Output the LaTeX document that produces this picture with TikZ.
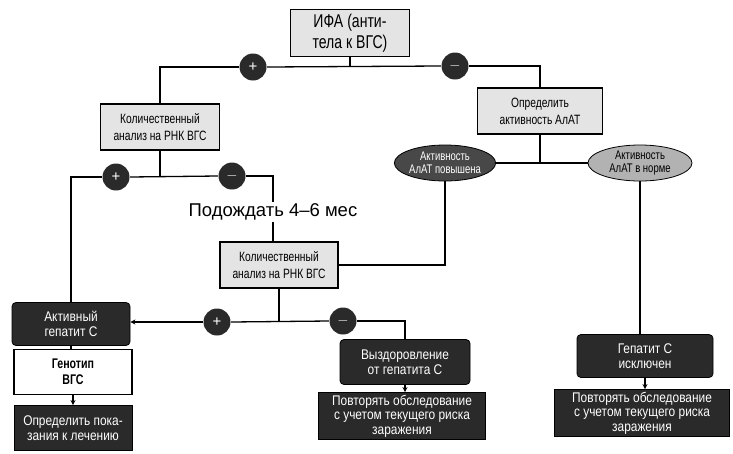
\documentclass[tikz,border=0pt]{standalone}
\usepackage{fontspec}
\setmainfont{Liberation Sans}
\newfontfamily\narrowfont{Liberation Sans}[FakeStretch=0.76]
\newfontfamily\semifont{Liberation Sans}[FakeStretch=0.85]
\usetikzlibrary{arrows.meta,shapes.geometric}
\definecolor{boxgrey}{RGB}{228,228,228}
\definecolor{darkfill}{RGB}{42,42,42}
\definecolor{ovaldark}{RGB}{72,72,72}
\definecolor{ovallight}{RGB}{178,178,178}

\begin{document}
\begin{tikzpicture}[x=1pt,y=-1pt,
    line width=1.3pt,
    lightbox/.style={draw, line width=1.1pt, fill=boxgrey, align=center, inner sep=1pt,
        font=\narrowfont\fontsize{13.5}{17}\selectfont},
    darkbox/.style={draw, line width=0.8pt, fill=darkfill, text=white, align=center, inner sep=1pt,
        font=\semifont\fontsize{14}{14.5}\selectfont},
    oval/.style={ellipse, draw, line width=0.8pt, align=center, inner sep=0pt,
        minimum width=100pt, minimum height=36pt,
        font=\narrowfont\fontsize{12.5}{13}\selectfont},
    sign/.style={circle, fill=darkfill, text=white, minimum size=27pt, inner sep=0pt,
        font=\fontsize{15}{15}\selectfont},
    arr/.style={-{Stealth[length=5pt,width=5pt]}}]

    \useasboundingbox (0,0) rectangle (733,453);

    % верхний уровень
    \node[lightbox, minimum width=119pt, minimum height=47pt,
        font=\narrowfont\fontsize{18.5}{21}\selectfont] (ifa) at (350,33) {ИФА (анти-\\тела к ВГС)};
    \node[lightbox, minimum width=119pt, minimum height=46pt] (kol1) at (160,127) {Количественный\\анализ на РНК ВГС};
    \node[lightbox, minimum width=125pt, minimum height=46pt] (alat) at (540,111) {Определить\\активность АлАТ};

    \node[sign] (p1) at (253,67) {+};
    \node[sign] (m1) at (455,66) {$-$};

    % АлАТ
    \node[oval, fill=ovaldark, text=white] (up) at (445,163) {Активность\\АлАТ повышена};
    \node[oval, fill=ovallight, minimum width=104pt] (norm) at (640,163) {Активность\\АлАТ в норме};

    % второй уровень
    \node[sign] (p2) at (116,177) {+};
    \node[sign] (m2) at (232,176) {$-$};
    \node[font=\fontsize{18.5}{20}\selectfont, fill=white, inner sep=1pt] (wait) at (273,212) {Подождать 4--6 мес};
    \node[lightbox, minimum width=118pt, minimum height=46pt] (kol2) at (279,265) {Количественный\\анализ на РНК ВГС};

    \node[sign] (p3) at (217,322) {+};
    \node[sign] (m3) at (343,321) {$-$};

    % исходы
    \node[darkbox, rounded corners=4pt, minimum width=118pt, minimum height=43pt] (act) at (71,324) {Активный\\гепатит С};
    \node[lightbox, fill=white, minimum width=118pt, minimum height=45pt,
        font=\narrowfont\bfseries\fontsize{14}{16}\selectfont] (geno) at (73,372) {Генотип\\ВГС};
    \node[darkbox, minimum width=118pt, minimum height=45pt] (indic) at (73,428) {Определить пока-\\зания к лечению};

    \node[darkbox, rounded corners=4pt, minimum width=130pt, minimum height=45pt] (rec) at (405,362) {Выздоровление\\от гепатита С};
    \node[darkbox, minimum width=167pt, minimum height=47pt] (rep1) at (402,416) {Повторять обследование\\с учетом текущего риска\\заражения};

    \node[darkbox, rounded corners=4pt, minimum width=136pt, minimum height=43pt] (excl) at (645,356) {Гепатит С\\исключен};
    \node[darkbox, minimum width=175pt, minimum height=47pt] (rep2) at (642,413) {Повторять обследование\\с учетом текущего риска\\заражения};

    % линии
    \draw (ifa.south) -- (ifa.south |- p1);
    \draw (kol1.north) |- (p1.west);
    \draw (p1.east) -- (m1.west);
    \draw (m1.east) -| (alat.north);

    \draw (alat.south) -- (alat.south |- up.east);
    \draw (up.east) -- (norm.west);

    \draw (kol1.south) -- (kol1.south |- p2);
    \draw (act.north) |- (p2.west);
    \draw (p2.east) -- (m2.west);
    \draw (m2.east) -| (wait.north);
    \draw (wait.south) -- (wait.south |- kol2.north);

    \draw (up.south) |- (kol2.east);

    \draw (kol2.south) -- (kol2.south |- p3);
    \draw[arr] (p3.west) -- (p3 -| act.east);
    \draw (p3.east) -- (m3.west);
    \draw (m3.east) -| (rec.north);

    \draw (norm.south) -- (norm.south |- excl.north);

    \draw (act.south) -- (act.south |- geno.north);
    \draw[arr] (geno.south) -- (geno.south |- indic.north);
    \draw[arr] (rec.south) -- (rec.south |- rep1.north);
    \draw[arr] (excl.south) -- (excl.south |- rep2.north);
\end{tikzpicture}
\end{document}
